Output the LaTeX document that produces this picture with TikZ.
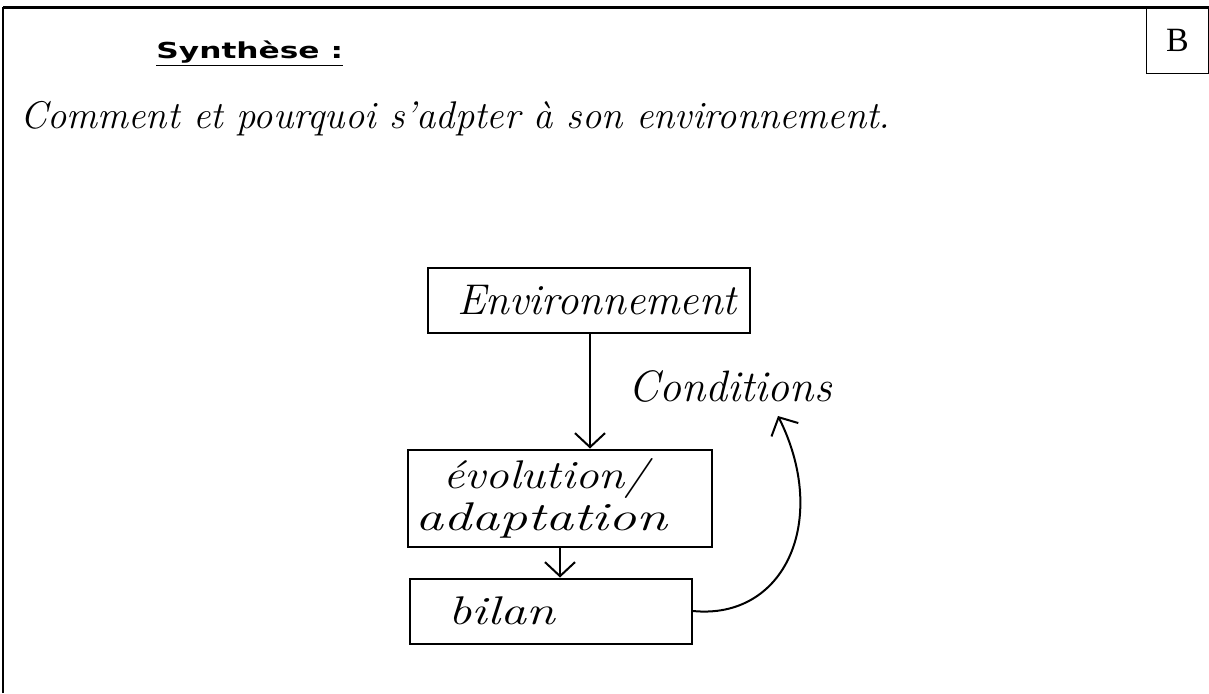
\documentclass[tikz,border=0pt]{standalone}
\usepackage{fontspec}
\newfontfamily\titlefont{DejaVu Sans}
\newfontfamily\timesfont{Liberation Serif}
\usetikzlibrary{arrows.meta}
\begin{document}
\begin{tikzpicture}[x=0.5pt,y=-0.5pt,
  box/.style={draw,line width=1pt},
  harrow/.style={draw,line width=1pt,-{Straight Barb[length=7pt,width=15pt]}}]
\useasboundingbox (0,0) rectangle (1209,693);
% frame
\draw[line width=1.1pt] (3,693) -- (3,7);
\draw[line width=1.5pt] (3,7) -- (1209,7);
\node[draw,line width=0.6pt,minimum width=62*0.5pt,minimum height=66*0.5pt,anchor=north east,inner sep=0pt,font=\timesfont\fontsize{17}{18}\selectfont] (B) at (1209,7) {B};
% title
\node[anchor=base west,inner sep=0pt,font=\titlefont\bfseries\fontsize{11}{12}\selectfont] (title) at (156,58) {\underline{\scalebox{1.42}[1]{Synthèse :}}};
% question
\node[anchor=base west,inner sep=0pt,font=\fontsize{19.3}{22}\selectfont\itshape] (q) at (20,128) {Comment et pourquoi s'adpter à son environnement.};
% boxes
\node[box,minimum width=322*0.5pt,minimum height=65*0.5pt,font=\fontsize{21.5}{22}\selectfont\itshape] (env) at (589,300) {\hspace*{8pt}Environnement};
\node[box,minimum width=304*0.5pt,minimum height=97*0.5pt,align=left,text width=145pt,inner sep=1pt,font=\fontsize{20}{14}\selectfont\itshape] (evo) at (560,498) {\hspace*{14pt}\scalebox{1.18}[1]{évolution/}\\[1pt]\scalebox{1.4}[1]{adaptation}};
\node[box,minimum width=282*0.5pt,minimum height=65*0.5pt,align=left,text width=125pt,font=\fontsize{20}{22}\selectfont\itshape] (bilan) at (551,611) {\hspace*{11pt}\scalebox{1.3}[1]{bilan}};
\node[font=\fontsize{22}{22}\selectfont\itshape] (cond) at (730,386) {Conditions};
% arrows
\draw[harrow] (env.south -| 590,0) -- (evo.north -| 590,0);
\draw[harrow] (evo.south -| 560,0) -- (bilan.north -| 560,0);
\coordinate (c1) at (bilan.east);
\draw[harrow] (c1) .. controls (785,620) and (830,520) .. (778,416);
\end{tikzpicture}
\end{document}
